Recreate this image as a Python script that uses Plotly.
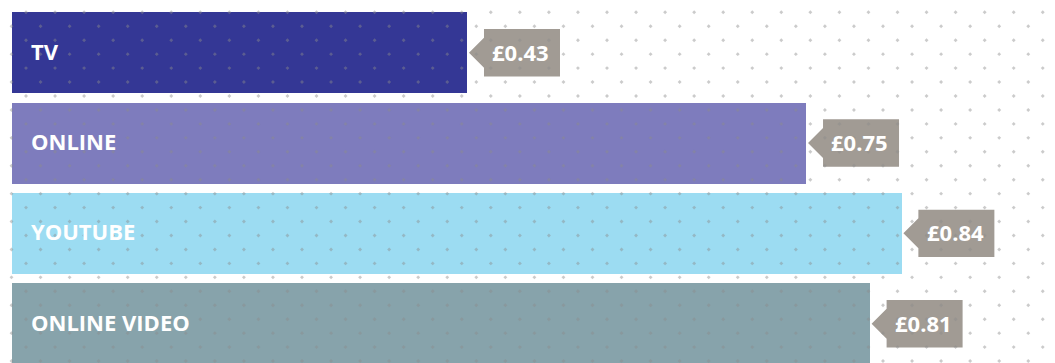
import numpy as np
import plotly.graph_objects as go

categories = ["TV", "ONLINE", "YOUTUBE", "ONLINE VIDEO"]
values = [0.43, 0.75, 0.84, 0.81]
value_labels = ["£0.43", "£0.75", "£0.84", "£0.81"]
bar_colors = ["#343795", "#7e7cbd", "#9cdcf2", "#87a3ab"]
badge_color = "#a19b94"

W, H = 1055, 363
ypos = list(range(len(categories)))

fig = go.Figure()
fig.add_trace(go.Bar(
    x=values, y=ypos, orientation="h", width=0.897,
    marker=dict(color=bar_colors, line=dict(width=0)),
    hoverinfo="skip", showlegend=False,
))

# decorative staggered dot pattern (pixel space, overlay axes)
dx, dy = 29.05, 13.95
px, py = [], []
for r in range(0, 27):
    yy = 12.3 + r * dy
    x0 = 26.0 if r % 2 == 0 else 11.5
    xx = x0 - dx
    while xx < W + 5:
        px.append(xx)
        py.append(yy)
        xx += dx
fig.add_trace(go.Scatter(
    x=px, y=py, mode="markers", xaxis="x2", yaxis="y2",
    marker=dict(size=3, color="rgba(140,140,140,0.45)", symbol="diamond"),
    hoverinfo="skip", showlegend=False,
))

shapes = []
annotations = []
for i, (cat, v, lab) in enumerate(zip(categories, values, value_labels)):
    shapes.append(dict(
        type="path", xref="x", yref="y", layer="below",
        xsizemode="pixel", ysizemode="pixel", xanchor=v, yanchor=i,
        path="M 1.7,0 L 16.7,15 L 16.7,23.7 L 92.7,23.7 L 92.7,-23.7 L 16.7,-23.7 L 16.7,-15 Z",
        fillcolor=badge_color, line=dict(width=0),
    ))
    annotations.append(dict(
        x=v, y=i, xref="x", yref="y", xanchor="center", yanchor="middle",
        xshift=53.5, yshift=1, showarrow=False, text=lab,
        font=dict(family="Open Sans", size=22, color="white", weight="bold"),
    ))
    annotations.append(dict(
        x=0, y=i, xref="x", yref="y", xanchor="left", yanchor="middle",
        xshift=17, yshift=2, showarrow=False, text=cat,
        font=dict(family="Open Sans", size=22, color="white", weight="bold"),
    ))

x_per_px = 1059.5
fig.update_layout(
    width=W, height=H,
    margin=dict(l=0, r=0, t=0, b=0),
    paper_bgcolor="white", plot_bgcolor="white",
    xaxis=dict(range=[-11.7 / x_per_px, (W - 11.7) / x_per_px], visible=False, fixedrange=True),
    yaxis=dict(range=[3 + (H - 323.7) / 90.33, -52.7 / 90.33], visible=False, fixedrange=True),
    xaxis2=dict(range=[0, W], overlaying="x", visible=False, fixedrange=True),
    yaxis2=dict(range=[H, 0], overlaying="y", visible=False, fixedrange=True),
    shapes=shapes, annotations=annotations,
    bargap=0,
)
fig.write_html("out.html")
